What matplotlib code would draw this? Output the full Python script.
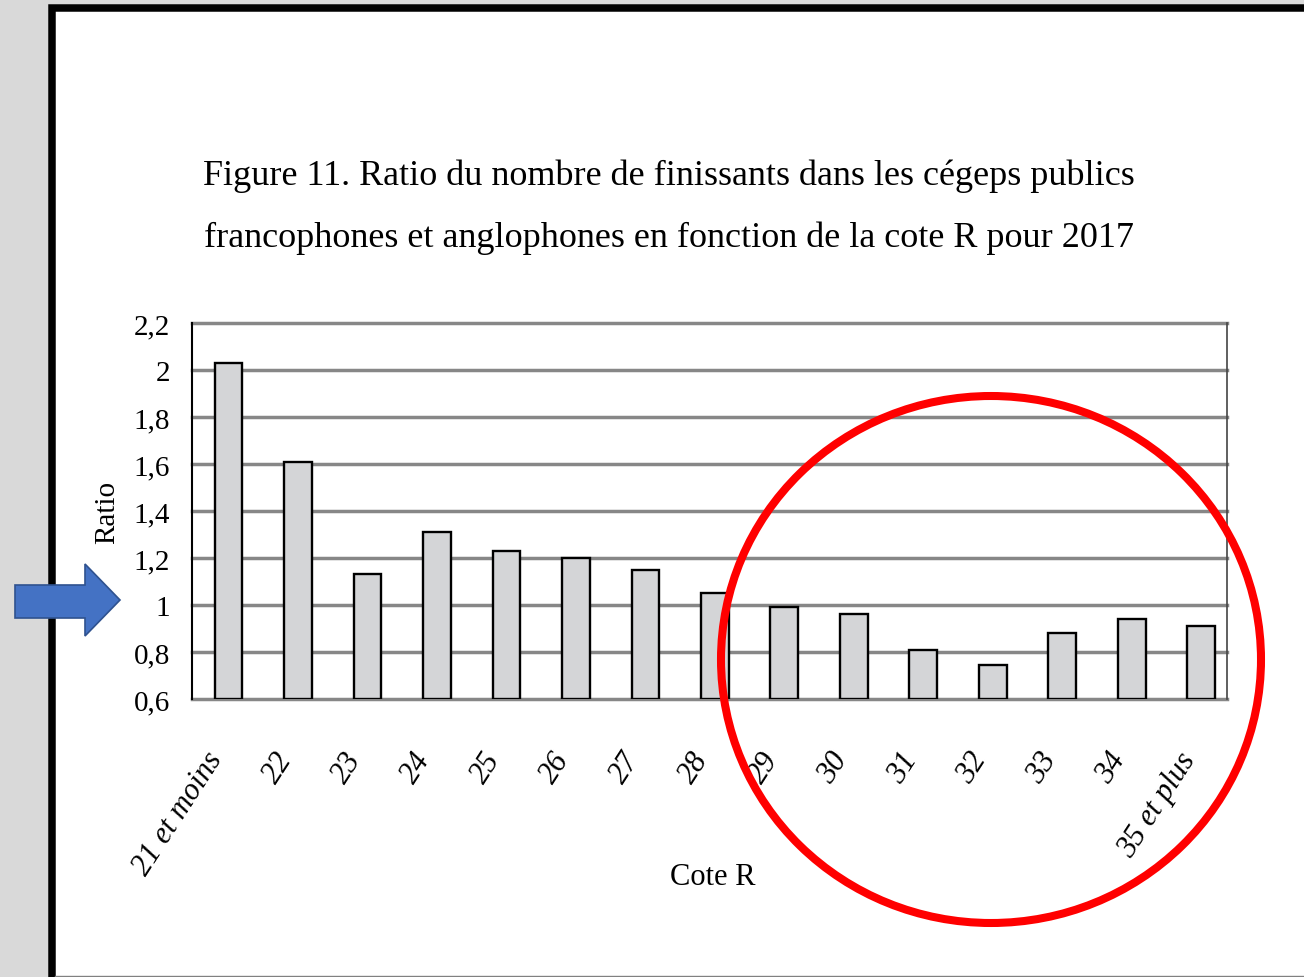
import numpy as np
import matplotlib
matplotlib.use("Agg")
import matplotlib.pyplot as plt
from matplotlib.patches import Ellipse, Polygon, Rectangle
from matplotlib.lines import Line2D

# data
categories = ["21 et moins", "22", "23", "24", "25", "26", "27", "28",
              "29", "30", "31", "32", "33", "34", "35 et plus"]
ratios = [2.03, 1.61, 1.13, 1.31, 1.23, 1.20, 1.15, 1.05,
          0.99, 0.96, 0.81, 0.745, 0.88, 0.94, 0.91]
yticks = [0.6, 0.8, 1.0, 1.2, 1.4, 1.6, 1.8, 2.0, 2.2]
ytick_labels = ["0,6", "0,8", "1", "1,2", "1,4", "1,6", "1,8", "2", "2,2"]

title = ("Figure 11. Ratio du nombre de finissants dans les cégeps publics\n"
         "francophones et anglophones en fonction de la cote R pour 2017")

W, H = 1304, 978
plt.rcParams['font.family'] = ['Liberation Serif', 'DejaVu Serif']

fig = plt.figure(figsize=(W / 100, H / 100), dpi=100)
fig.patch.set_facecolor('#d9d9d9')

def fx(px):
    return px / W

def fy(py):
    return 1 - py / H

# slide frame: white page with black border on top and left
frame = Rectangle((fx(51.7), fy(1100)), fx(1400), fy(8.8) - fy(1100),
                  transform=fig.transFigure, facecolor='white',
                  edgecolor='black', linewidth=5.4, zorder=-5)
fig.patches.append(frame)
fig.lines.append(Line2D([fx(55), 1], [fy(977), fy(977)], transform=fig.transFigure,
                        color='#808080', linewidth=1, zorder=-4))

ax = fig.add_axes([fx(192), fy(700), fx(1227) - fx(192), fy(324) - fy(700)])
ax.set_facecolor('none')
ax.set_zorder(1)

x = np.arange(len(categories))
base = yticks[0]
ax.bar(x, np.array(ratios) - base, bottom=base, width=0.4,
       color='#d4d5d7', edgecolor='black', linewidth=1.7, zorder=3)

ax.set_ylim(yticks[0], yticks[-1])
ax.set_xlim(-0.525, 14.37)
ax.set_yticks(yticks)
ax.set_yticklabels(ytick_labels, fontsize=21)
ax.set_xticks(x)
ax.set_xticklabels(categories, fontsize=22, style='italic', rotation=57,
                   ha='right', va='top')
ax.tick_params(axis='y', length=0, pad=16)
ax.tick_params(axis='x', length=0, pad=34)

ax.yaxis.grid(True, color='#878787', linewidth=2.5, zorder=1)
for gl in ax.yaxis.get_gridlines():
    gl.set_clip_on(False)
ax.set_axisbelow(True)
for s in ['top', 'bottom']:
    ax.spines[s].set_visible(False)
ax.spines['left'].set_color('black')
ax.spines['left'].set_linewidth(1.5)
ax.spines['left'].set_zorder(4)
ax.spines['right'].set_color('#444444')
ax.spines['right'].set_linewidth(1.2)

fig.text(fx(107), fy(512), "Ratio", rotation=90, fontsize=21,
         ha='center', va='center')
fig.text(fx(713), fy(878), "Cote R", fontsize=22, ha='center', va='center')
fig.text(fx(669), fy(207), title, fontsize=26, ha='center', va='center',
         linespacing=2.1)

# red circle highlighting the right-hand bars
ring = Ellipse((fx(991), fy(660.5)), fx(540), fy(0) - fy(527),
               transform=fig.transFigure, fill=False, edgecolor='#ff0000',
               linewidth=5.8, zorder=10)
fig.patches.append(ring)

# blue arrow pointing at ratio 1
arrow_px = [(15, 586), (85, 586), (85, 565), (120, 601),
            (85, 637), (85, 619), (15, 619)]
arrow = Polygon([(fx(a), fy(b)) for a, b in arrow_px], closed=True,
                transform=fig.transFigure, facecolor='#4472c4',
                edgecolor='#2f528f', linewidth=1.2, zorder=10)
fig.patches.append(arrow)

fig.savefig("out.png", dpi=100, facecolor=fig.get_facecolor())
